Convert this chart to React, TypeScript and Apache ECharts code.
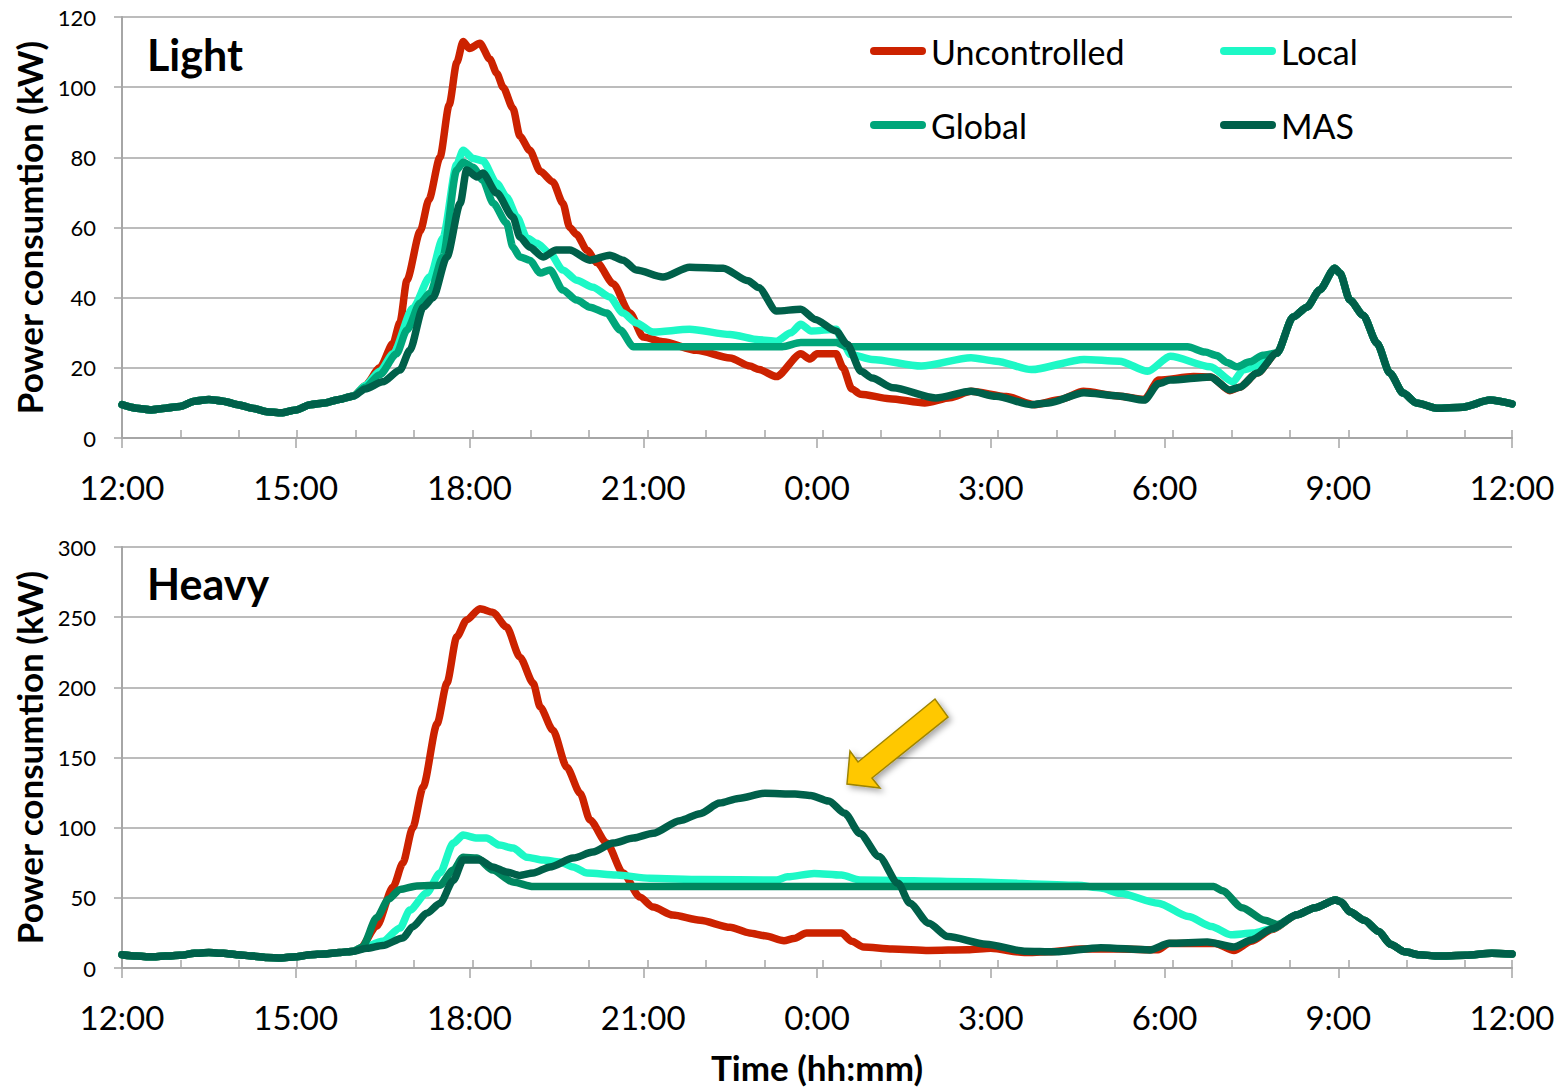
import React, { useEffect, useRef } from "react";
import * as echarts from "echarts";

type P = [number, number];

// time in clock hours (12 = noon, 24 = midnight, 36 = next noon), value in kW
const BASELINE: P[] = [
  [12, 9.5], [12.25, 8.5], [12.5, 8], [12.75, 8.5], [13, 9], [13.25, 10.5], [13.5, 11],
  [13.75, 10.5], [14, 9.5], [14.25, 8.5], [14.5, 7.5], [14.75, 7.2], [15, 8], [15.25, 9.5],
  [15.5, 10], [15.75, 11], [16, 12],
];

const TOP_TAIL: P[] = [
  [31.94, 24.2], [32.22, 34.5], [32.46, 37.3], [32.68, 42.2], [32.94, 48.4], [33.03, 47],
  [33.2, 39.3], [33.43, 35], [33.67, 27], [33.89, 18.5], [34.12, 12.8], [34.35, 10],
  [34.7, 8.5], [35.15, 8.8], [35.62, 10.8], [36, 9.7],
];

const BOT_TAIL: P[] = [
  [32.29, 38], [32.6, 43], [32.95, 48.5], [33.05, 47], [33.2, 40], [33.45, 34], [33.7, 26],
  [33.9, 17], [34.15, 11.5], [34.4, 9.5], [34.7, 8.5], [35.2, 9], [35.65, 10.5], [36, 10],
];

const LIGHT_UNCONTROLLED: P[] = [
  [16.2, 15], [16.45, 20], [16.68, 27], [16.8, 33], [16.92, 45], [17.15, 59], [17.3, 68],
  [17.49, 80], [17.65, 95], [17.78, 107], [17.89, 113], [18.0, 111], [18.18, 112.5],
  [18.35, 108], [18.47, 104], [18.58, 100], [18.75, 94], [18.87, 86], [19.04, 82],
  [19.22, 76], [19.44, 73], [19.61, 67], [19.73, 60], [19.85, 58], [20.03, 53.5], [20.2, 50],
  [20.48, 44], [20.77, 35.6], [21.0, 28.8], [21.34, 27.4], [21.92, 25], [22.5, 22.8],
  [22.84, 20.5], [23.0, 19.5], [23.3, 17.5], [23.72, 24], [23.88, 22.5], [24.0, 24],
  [24.33, 24], [24.45, 20], [24.6, 14], [24.75, 12.5], [25.25, 11.2], [25.86, 10],
  [26.3, 11.5], [26.66, 13.3], [27.27, 11.8], [27.76, 9.5], [28.2, 11], [28.6, 13.3],
  [29.2, 12], [29.65, 11], [29.9, 16.5], [30.5, 17.5], [30.8, 17.4], [31.13, 13.5],
  [31.3, 14.5], [31.6, 18.5],
];

const LIGHT_LOCAL: P[] = [
  [16.2, 15], [16.45, 19], [16.68, 24], [17.02, 37], [17.32, 46], [17.54, 57], [17.78, 78],
  [17.89, 82], [18.06, 79.7], [18.23, 79], [18.47, 72.6], [18.64, 68.7], [18.82, 63],
  [18.99, 57], [19.16, 55.5], [19.39, 52.7], [19.61, 47.9], [19.85, 45], [20.13, 43],
  [20.42, 40.2], [20.65, 35.6], [20.88, 32.8], [21.17, 30.2], [21.8, 31], [22.5, 29.5],
  [23.0, 28], [23.3, 27.6], [23.55, 30], [23.72, 32.4], [23.9, 30.5], [24.33, 31],
  [24.45, 27], [24.58, 23.8], [24.95, 22.4], [25.8, 20.5], [26.66, 22.9], [27.09, 21.9],
  [27.7, 19.5], [28.61, 22.4], [29.22, 21.9], [29.71, 19], [30.1, 23.3], [30.79, 20.3],
  [31.18, 16], [31.36, 19.4], [31.6, 20.5],
];

const LIGHT_GLOBAL: P[] = [
  [16.2, 14.5], [16.45, 18], [16.74, 24], [16.92, 30.8], [17.15, 38.5], [17.32, 41.3],
  [17.54, 51.6], [17.78, 76.4], [17.89, 78.6], [18.06, 77.2], [18.23, 73.5], [18.41, 66.9],
  [18.64, 61.3], [18.75, 54.4], [18.87, 51.6], [19.04, 50.7], [19.22, 47], [19.39, 47.9],
  [19.61, 42.2], [19.85, 39.3], [20.08, 37.3], [20.37, 35.6], [20.6, 30.8], [20.83, 26],
  [23.4, 26], [23.72, 27.2], [24.33, 27.2], [24.52, 26], [30.4, 26], [30.7, 24.5],
  [30.9, 23.5], [31.08, 21.5], [31.25, 20.3], [31.47, 21.7], [31.7, 23.6],
];

const LIGHT_MAS: P[] = [
  [16.2, 14], [16.5, 16], [16.8, 19.4], [16.97, 25], [17.2, 37.3], [17.37, 40], [17.61, 51.6],
  [17.84, 66.9], [17.95, 76.4], [18.13, 74.4], [18.23, 75.5], [18.47, 69.8], [18.75, 63],
  [18.87, 57.3], [19.04, 54.4], [19.27, 51.6], [19.5, 53.6], [19.73, 53.6], [20.08, 50.7],
  [20.42, 52.1], [20.65, 50.7], [20.88, 47.9], [21.34, 45.9], [21.8, 48.7], [22.38, 48.4],
  [22.81, 44.8], [22.99, 42.9], [23.3, 36.2], [23.72, 36.7], [23.97, 33.8], [24.33, 30.5],
  [24.52, 26.7], [24.76, 19], [24.95, 17.1], [25.31, 14.3], [26.05, 11.4], [26.66, 13.3],
  [27.09, 11.9], [27.7, 9.5], [28.0, 10], [28.61, 12.9], [29.2, 12], [29.65, 10.8],
  [29.9, 15.5], [30.1, 16.5], [30.79, 17.4], [31.13, 13.7], [31.3, 14.5], [31.6, 18.5],
];

const HEAVY_UNCONTROLLED: P[] = [
  [16.11, 14], [16.4, 30], [16.68, 57.7], [16.85, 74.8], [17.02, 100], [17.2, 129],
  [17.44, 174], [17.61, 203], [17.78, 236], [17.95, 248], [18.18, 256], [18.4, 253.5],
  [18.64, 243], [18.87, 221.5], [19.1, 203], [19.22, 186], [19.44, 169.5], [19.68, 143],
  [19.91, 124.6], [20.08, 105.4], [20.37, 89], [20.65, 67.7], [20.94, 50.6], [21.17, 43.4],
  [21.51, 37.7], [21.98, 34], [22.5, 29], [22.83, 25], [23.1, 23], [23.43, 19.5], [23.6, 21],
  [23.82, 25], [24.42, 25], [24.6, 19], [24.8, 15], [25.3, 13.5], [25.93, 12.5], [26.6, 13],
  [27.0, 14], [27.58, 11], [28.0, 11.5], [28.57, 13.5], [29.2, 13.5], [29.89, 13],
  [30.08, 17.5], [30.87, 17.5], [31.2, 12.5], [31.5, 19], [31.86, 27.5],
];

const HEAVY_LOCAL: P[] = [
  [16.11, 14], [16.5, 19], [16.8, 28.5], [16.97, 41.3], [17.26, 53.4], [17.49, 67.7],
  [17.72, 89], [17.89, 94.7], [18.13, 92.6], [18.29, 92.6], [18.52, 87.6], [18.75, 85.5],
  [18.99, 79], [19.27, 76.9], [19.56, 75.5], [19.79, 72], [20.03, 67.7], [20.54, 66.2],
  [21.11, 64], [22.0, 63], [23.3, 62.7], [23.49, 65], [23.95, 67.4], [24.42, 66.2],
  [24.74, 62.7], [26.59, 61.5], [28.5, 59], [28.9, 57], [29.23, 53.2], [29.89, 46.2],
  [30.41, 36.7], [30.81, 29.6], [31.14, 23.7], [31.53, 24.9], [31.86, 28],
];

const HEAVY_GLOBAL: P[] = [
  [16.15, 15], [16.4, 36], [16.6, 49], [16.8, 56], [17.09, 58.5], [17.49, 59], [17.72, 69.8],
  [17.89, 79], [18.13, 78.3], [18.4, 69.8], [18.75, 61.3], [19.1, 58], [30.85, 58],
  [31.0, 55], [31.34, 43], [31.73, 34], [31.95, 31],
];

const HEAVY_MAS: P[] = [
  [16.23, 14], [16.5, 16], [16.85, 21.4], [17.02, 29.4], [17.26, 39], [17.49, 46],
  [17.72, 62.4], [17.89, 77], [18.18, 77], [18.4, 72], [18.64, 68.4], [18.87, 66],
  [19.1, 67.7], [19.39, 72], [19.79, 78.3], [20.13, 82.6], [20.48, 89], [20.83, 92.6],
  [21.17, 96], [21.63, 105], [21.98, 110], [22.32, 117.5], [22.64, 120.8], [23.1, 124.5],
  [23.62, 124], [23.89, 123], [24.2, 119], [24.48, 110.2], [24.74, 95.9], [25.07, 79.4],
  [25.4, 60.4], [25.6, 46.2], [25.93, 31.9], [26.26, 22.4], [26.92, 17], [27.58, 12],
  [28.11, 11.5], [28.9, 14.5], [29.75, 12.9], [30.08, 17.6], [30.74, 18.5], [31.2, 15],
  [31.5, 20], [31.86, 28],
];

const SERIES_NAMES = ["Uncontrolled", "Local", "Global", "MAS"];
const TOP_COLORS = ["#CC2200", "#1DF8C6", "#00A67A", "#00604A"];
const BOT_COLORS = ["#CC2200", "#1DF8C6", "#00865F", "#00604A"];
const Y_TOP = { min: 0, max: 120, interval: 20 };
const Y_BOT = { min: 0, max: 300, interval: 50 };
const X_MAJOR_MIN = 180; // labelled ticks every 3 h
const X_MINOR_MIN = 60.5; // small inner ticks

const FONT = "Lato";
const GRAY = "#A6A6A6";

const toXY = (arr: P[]) => arr.map(([h, v]) => [(h - 12) * 60, v]);
const fmt = (m: number) => `${Math.round(12 + m / 60) % 24}:00`;

const PILL = "path://M4,0 L52,0 A4,4 0 0 1 52,8 L4,8 A4,4 0 0 1 4,0 Z";

export default function App() {
  const ref = useRef<HTMLDivElement>(null);
  useEffect(() => {
    if (!ref.current) return;
    const chart = echarts.init(ref.current, null, { renderer: "svg" });

    const topData = [
      [...BASELINE, ...LIGHT_UNCONTROLLED, ...TOP_TAIL],
      [...BASELINE, ...LIGHT_LOCAL, ...TOP_TAIL],
      [...BASELINE, ...LIGHT_GLOBAL, ...TOP_TAIL],
      [...BASELINE, ...LIGHT_MAS, ...TOP_TAIL],
    ];
    const botData = [
      [...BASELINE, ...HEAVY_UNCONTROLLED, ...BOT_TAIL],
      [...BASELINE, ...HEAVY_LOCAL, ...BOT_TAIL],
      [...BASELINE, ...HEAVY_GLOBAL, ...BOT_TAIL],
      [...BASELINE, ...HEAVY_MAS, ...BOT_TAIL],
    ];

    const mkSeries = (data: P[][], colors: string[], xi: number, yi: number) =>
      data.map((d, i) => ({
        type: "line",
        name: SERIES_NAMES[i],
        data: toXY(d),
        xAxisIndex: xi,
        yAxisIndex: yi,
        symbol: "none",
        showSymbol: false,
        smooth: 0.25,
        smoothMonotone: "x",
        itemStyle: { color: colors[i] },
        lineStyle: { color: colors[i], width: 7.5, cap: "round", join: "round" },
        z: 2 + i,
      }));

    const majorX = (grid: number, extra: any = {}) => ({
      gridIndex: grid,
      type: "value",
      min: 0,
      max: 1440,
      interval: X_MAJOR_MIN,
      position: "bottom",
      axisLine: { show: true, lineStyle: { color: GRAY, width: 2 } },
      axisTick: { show: true, inside: false, length: 10, lineStyle: { color: GRAY, width: 1.5 } },
      axisLabel: { formatter: fmt, fontSize: 33, margin: 32, color: "#000", fontFamily: FONT },
      splitLine: { show: false },
      ...extra,
    });
    const minorX = (grid: number) => ({
      gridIndex: grid,
      type: "value",
      min: 0,
      max: 1440,
      interval: X_MINOR_MIN,
      position: "bottom",
      axisLine: { show: false },
      axisTick: { show: true, inside: true, length: 8, lineStyle: { color: GRAY, width: 1.5 } },
      axisLabel: { show: false },
      splitLine: { show: false },
    });
    const yAx = (grid: number, r: any) => ({
      gridIndex: grid,
      type: "value",
      ...r,
      axisLine: { show: true, lineStyle: { color: GRAY, width: 2 } },
      axisTick: { show: true, length: 8, lineStyle: { color: GRAY, width: 1.5 } },
      axisLabel: { fontSize: 22, margin: 26, color: "#000", fontFamily: FONT },
      splitLine: { show: true, lineStyle: { color: GRAY, width: 1.5 } },
      name: "Power consumtion (kW)",
      nameLocation: "middle",
      nameGap: 76,
      nameTextStyle: { fontSize: 35, fontWeight: "bold", color: "#000", fontFamily: FONT },
    });

    const legendItem = (name: string, left: number, top: number) => ({
      data: [name],
      left,
      top,
      padding: 0,
      itemWidth: 56,
      itemHeight: 8,
      icon: PILL,
      selectedMode: false,
      itemStyle: { borderWidth: 0 },
      textStyle: { fontSize: 34, color: "#000", fontFamily: FONT, lineHeight: 36 },
    });

    chart.setOption({
      animation: false,
      textStyle: { fontFamily: FONT },
      title: [
        { text: "Light", left: 147, top: 33, padding: 0, textStyle: { fontSize: 43, fontWeight: "bold", color: "#000", fontFamily: FONT } },
        { text: "Heavy", left: 147, top: 562, padding: 0, textStyle: { fontSize: 43, fontWeight: "bold", color: "#000", fontFamily: FONT } },
      ],
      legend: [
        legendItem("Uncontrolled", 870, 33),
        legendItem("Local", 1220, 33),
        legendItem("Global", 870, 107),
        legendItem("MAS", 1220, 107),
      ],
      grid: [
        { left: 122, right: 54, top: 17, height: 421 },
        { left: 122, right: 54, top: 547, height: 421 },
      ],
      xAxis: [
        majorX(0),
        minorX(0),
        majorX(1, {
          name: "Time (hh:mm)",
          nameLocation: "middle",
          nameGap: 80,
          nameTextStyle: { fontSize: 35, fontWeight: "bold", color: "#000", fontFamily: FONT, lineHeight: 38 },
        }),
        minorX(1),
      ],
      yAxis: [yAx(0, Y_TOP), yAx(1, Y_BOT)],
      series: [...mkSeries(topData, TOP_COLORS, 0, 0), ...mkSeries(botData, BOT_COLORS, 2, 1)],
      graphic: [
        {
          type: "polygon",
          z: 100,
          shape: {
            points: [
              [847, 784], [850, 751], [858, 762], [935, 699], [948, 717], [872, 778], [880, 788],
            ],
          },
          style: {
            fill: "#FFC800",
            stroke: "#9E8400",
            lineWidth: 1.5,
            shadowBlur: 6,
            shadowColor: "rgba(0,0,0,0.35)",
            shadowOffsetX: 3,
            shadowOffsetY: 3,
          },
        },
      ],
    });
    return () => chart.dispose();
  }, []);
  return (
    <div
      ref={ref}
      style={{ position: "absolute", left: 0, top: 0, width: 1566, height: 1088, background: "#fff" }}
    />
  );
}
